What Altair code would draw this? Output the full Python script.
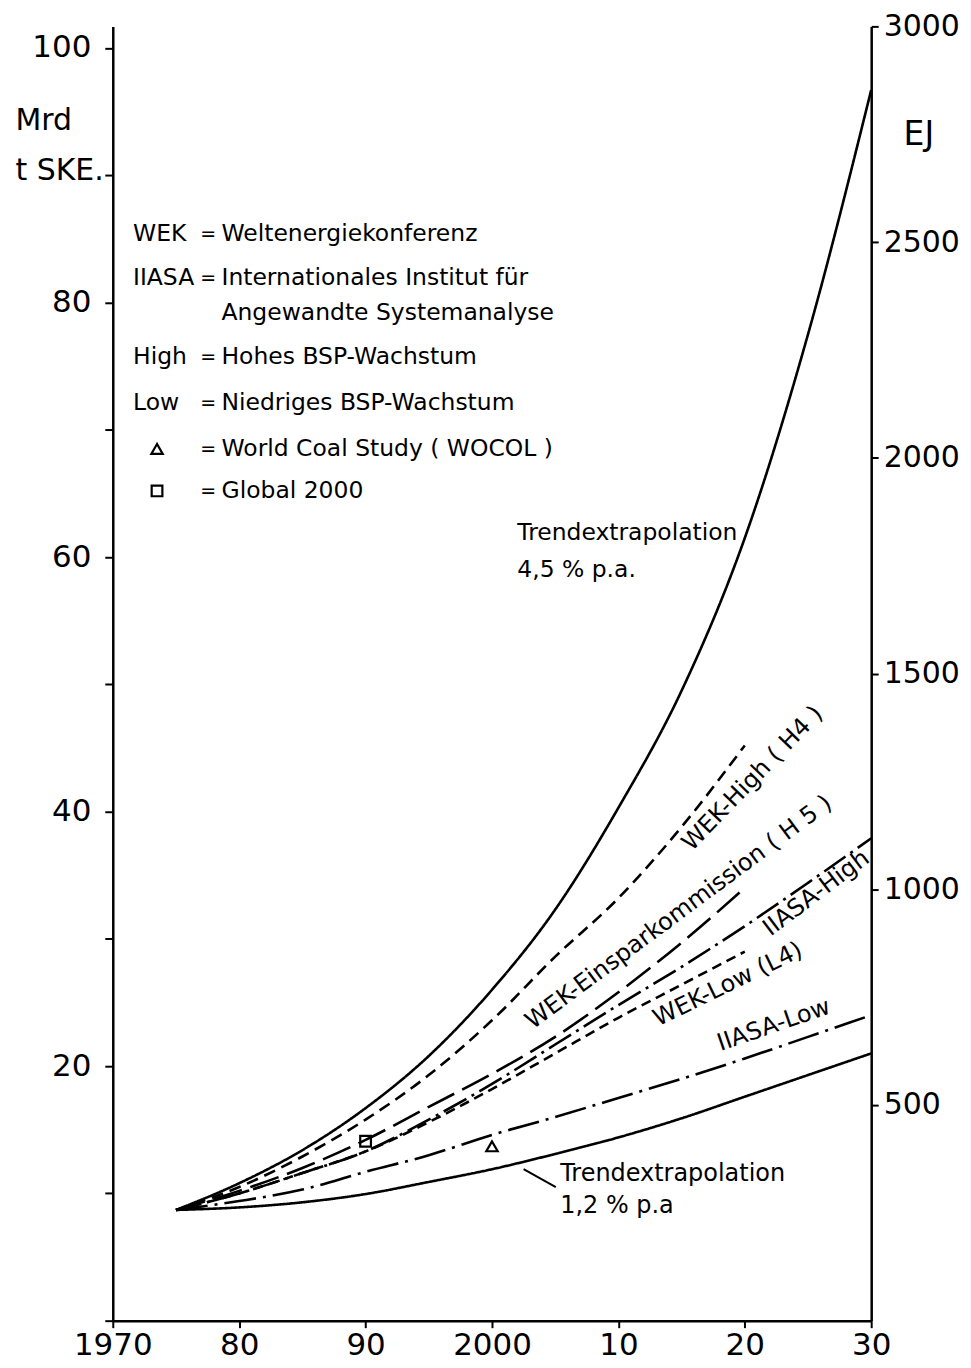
import altair as alt
import pandas as pd

# ---------------- data ----------------
years = [1975, 1980, 1985, 1990, 1995, 2000, 2005, 2010, 2015, 2020, 2025, 2030]
years_to_2020 = [1975, 1980, 1985, 1990, 1995, 2000, 2005, 2010, 2015, 2020]

trend_45 = [8.7, 10.8, 13.4, 16.7, 20.8, 26.0, 32.3, 40.3, 49.5, 61.5, 77.5, 96.7]
trend_12 = [8.7, 8.9, 9.3, 9.95, 10.9, 11.9, 13.1, 14.4, 15.9, 17.6, 19.3, 21.0]
wek_high = [8.7, 10.5, 12.9, 15.8, 19.3, 23.6, 28.6, 33.2, 38.8, 45.2]
wek_einspar = [8.7, 10.2, 12.0, 14.2, 16.8, 19.4, 22.3, 25.8, 29.7, 34.0]
wek_low = [8.7, 10.0, 11.6, 13.3, 15.6, 18.2, 21.0, 23.8, 26.4, 29.0]
iiasa_high = [8.7, 10.0, 11.6, 13.3, 15.8, 18.6, 21.7, 24.8, 27.8, 31.0, 34.4, 37.9]
iiasa_low = [8.7, 9.4, 10.3, 11.7, 13.0, 14.6, 16.0, 17.5, 19.0, 20.6, 22.3, 24.0]

wocol_year = [2000]
wocol_value = [13.7]
global2000_year = [1990]
global2000_value = [14.1]

x_tick_values = [1970, 1980, 1990, 2000, 2010, 2020, 2030]
x_tick_labels = ["1970", "80", "90", "2000", "10", "20", "30"]
left_tick_values = [0, 10, 20, 30, 40, 50, 60, 70, 80, 90, 100]
right_tick_values = [500, 1000, 1500, 2000, 2500, 3000]

legend_keys = ["WEK", "IIASA", "", "High", "Low", "", ""]
legend_eq = ["=", "=", "", "=", "=", "=", "="]
legend_desc = [
    "Weltenergiekonferenz",
    "Internationales Institut für",
    "Angewandte Systemanalyse",
    "Hohes BSP-Wachstum",
    "Niedriges BSP-Wachstum",
    "World Coal Study ( WOCOL )",
    "Global 2000",
]

series_names = ["Trend 4,5", "Trend 1,2", "WEK-High (H4)", "WEK-Einspar (H5)",
                "WEK-Low (L4)", "IIASA-High", "IIASA-Low"]

# ---------------- build tables ----------------
rows = []
for name, yrs, vals in [
    (series_names[0], years, trend_45),
    (series_names[1], years, trend_12),
    (series_names[2], years_to_2020, wek_high),
    (series_names[3], years_to_2020, wek_einspar),
    (series_names[4], years_to_2020, wek_low),
    (series_names[5], years, iiasa_high),
    (series_names[6], years, iiasa_low),
]:
    for y, v in zip(yrs, vals):
        rows.append({"series": name, "yr": y, "v": v})
lines_df = pd.DataFrame(rows)

dash_styles = [[1, 0], [1, 0], [12, 7], [30, 9], [10, 6], [26, 6, 3, 6], [32, 7, 3, 7]]

# label placement (in data coordinates)
legend_row_v = [85.4, 81.9, 79.2, 75.7, 72.1, 68.5, 65.2]
legend_key_x, legend_eq_x, legend_desc_x, legend_sym_x = 1971.6, 1977.55, 1978.6, 1973.5

FONT = "DejaVu Sans"
TFONT = "DejaVu Sans"

x_scale = alt.Scale(domain=[1970, 2030], nice=False, zero=False)
y_scale = alt.Scale(domain=[0, 101.7], nice=False, zero=True)

label_expr = " : ".join(
    f"datum.value == {v} ? '{l}'" for v, l in zip(x_tick_values, x_tick_labels)
) + " : ''"

x_axis = alt.Axis(values=x_tick_values, labelExpr=label_expr, title=None, grid=False,
                  domainColor="black", domainWidth=2.5, tickColor="black", tickWidth=2,
                  tickSize=7, labelFont=FONT, labelFontSize=31, labelColor="black",
                  labelPadding=3, labelFlush=False, labelOverlap=False)
y_axis = alt.Axis(values=left_tick_values,
                  labelExpr="datum.value > 0 && datum.value % 20 == 0 ? datum.value : ''",
                  title=["Mrd", "t SKE."], titleAngle=0, titleAlign="left",
                  titleBaseline="alphabetic", titleX=-98, titleY=103, titleFont=FONT,
                  titleFontSize=30, titleFontWeight="normal", titleLineHeight=50,
                  titleColor="black", grid=False, domainColor="black", domainWidth=2.5,
                  tickColor="black", tickWidth=2, tickSize=8, labelFont=FONT,
                  labelFontSize=31, labelColor="black", labelPadding=14, labelOverlap=False)
r_axis = alt.Axis(values=right_tick_values, orient="right", format="d", title="EJ",
                  titleAngle=0, titleAlign="left", titleBaseline="alphabetic", titleX=32,
                  titleY=118, titleFont=FONT, titleFontSize=33, titleFontWeight="normal",
                  titleColor="black", grid=False, domainColor="black", domainWidth=2.5,
                  tickColor="black", tickWidth=2, tickSize=7, labelFont=FONT,
                  labelFontSize=30, labelColor="black", labelPadding=5, labelOverlap=False)

X = alt.X("yr:Q", scale=x_scale, axis=x_axis)
Y = alt.Y("v:Q", scale=y_scale, axis=y_axis)

lines = alt.Chart(lines_df).mark_line(color="black", strokeWidth=2.6, interpolate="monotone").encode(
    x=X, y=Y,
    strokeDash=alt.StrokeDash("series:N", scale=alt.Scale(domain=series_names, range=dash_styles), legend=None),
    detail="series:N",
)

tri_df = pd.DataFrame({"yr": wocol_year + [legend_sym_x], "v": wocol_value + [legend_row_v[5]]})
sq_df = pd.DataFrame({"yr": global2000_year + [legend_sym_x], "v": global2000_value + [legend_row_v[6]]})
tri = alt.Chart(tri_df).mark_point(shape="triangle-up", filled=False, size=130, strokeWidth=2.2,
                                  color="black", opacity=1).encode(x=X, y=Y)
sq = alt.Chart(sq_df).mark_point(shape="square", filled=False, size=115, strokeWidth=2.2,
                                 color="black", opacity=1).encode(x=X, y=Y)

leg_rows = []
for k, e, d, v in zip(legend_keys, legend_eq, legend_desc, legend_row_v):
    if k:
        leg_rows.append({"yr": legend_key_x, "v": v, "t": k, "al": "left"})
    if e:
        leg_rows.append({"yr": legend_eq_x, "v": v, "t": e, "al": "center"})
    leg_rows.append({"yr": legend_desc_x, "v": v, "t": d, "al": "left"})
leg_df = pd.DataFrame(leg_rows)
leg_left = alt.Chart(leg_df[leg_df.al == "left"]).mark_text(
    align="left", baseline="middle", font=TFONT, fontSize=23.5, color="black").encode(x=X, y=Y, text="t:N")
leg_center = alt.Chart(leg_df[leg_df.al == "center"]).mark_text(
    align="center", baseline="middle", font=TFONT, fontSize=19, color="black").encode(x=X, y=Y, text="t:N")

plain_labels = pd.DataFrame({
    "yr": [2002.0, 2002.0, 2005.4, 2005.4],
    "v": [61.9, 59.0, 11.5, 9.0],
    "t": ["Trendextrapolation", "4,5 % p.a.", "Trendextrapolation", "1,2 % p.a"],
    "fs": [23.5, 23.5, 24, 24],
})
plain = alt.Chart(plain_labels).mark_text(
    align="left", baseline="middle", font=TFONT, color="black").encode(
    x=X, y=Y, text="t:N", size=alt.Size("fs:Q", scale=None, legend=None))

rot_labels = pd.DataFrame({
    "yr": [2015.4, 2002.9, 2021.7, 2012.9, 2017.9],
    "v": [37.2, 23.3, 30.6, 23.6, 21.7],
    "t": ["WEK-High ( H4 )", "WEK-Einsparkommission ( H 5 )", "IIASA-High", "WEK-Low (L4)", "IIASA-Low"],
    "ang": [314, 323.4, 323, 334, 341],
})
rot = alt.Chart(rot_labels).mark_text(
    align="left", baseline="middle", font=TFONT, fontSize=24, color="black").encode(
    x=X, y=Y, text="t:N", angle=alt.Angle("ang:Q", scale=None))

leader_df = pd.DataFrame({"yr": [2002.5], "v": [11.9], "yr2": [2005.05], "v2": [10.5]})
leader = alt.Chart(leader_df).mark_rule(color="black", strokeWidth=2).encode(
    x=X, y=Y, x2="yr2:Q", y2="v2:Q")

left = alt.layer(lines, tri, sq, leg_left, leg_center, plain, rot, leader)

right_df = pd.DataFrame({"yr": [1970, 1970], "ej": [0, 3000]})
right = alt.Chart(right_df).mark_point(opacity=0).encode(
    x=X, y=alt.Y("ej:Q", scale=alt.Scale(domain=[0, 3000], nice=False), axis=r_axis))

chart = alt.layer(left, right).resolve_scale(y="independent").properties(
    width=760, height=1297,
    padding={"left": 105, "top": 17, "right": 92, "bottom": 40},
    autosize=alt.AutoSizeParams(type="none"),
    background="white",
).configure_view(stroke=None)

chart.save("out.html", embed_options={"renderer": "svg", "actions": False})
